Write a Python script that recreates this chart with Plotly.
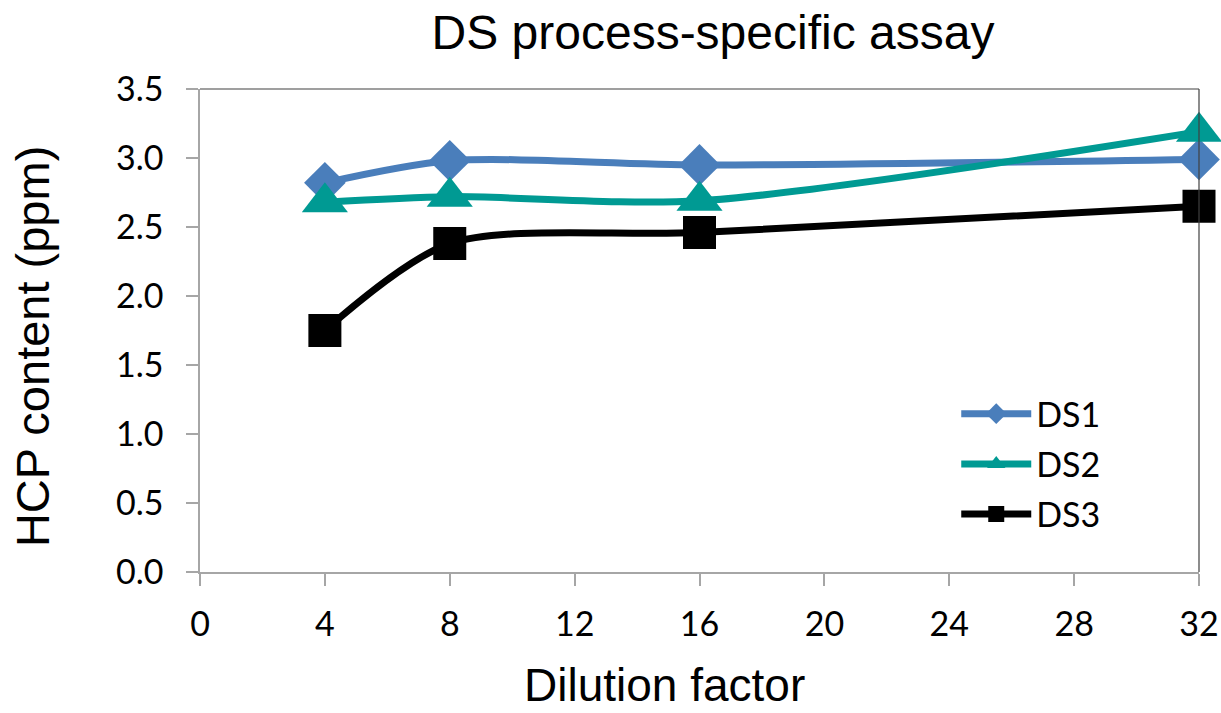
import plotly.graph_objects as go

dilution = [4, 8, 16, 32]
ds1 = [2.82, 2.98, 2.95, 2.99]
ds2 = [2.68, 2.72, 2.69, 3.19]
ds3 = [1.75, 2.38, 2.46, 2.65]

x_ticks = [0, 4, 8, 12, 16, 20, 24, 28, 32]
y_ticks = [0.0, 0.5, 1.0, 1.5, 2.0, 2.5, 3.0, 3.5]
y_tick_text = ["%.1f" % v for v in y_ticks]

series = [
    ("DS1", ds1, "#4A7EBB", "diamond", 32),
    ("DS2", ds2, "#009A93", "triangle-up", 40),
    ("DS3", ds3, "#000000", "square", 33),
]

AX_FONT = "Liberation Sans, Arial"
TICK_FONT = "Lato, Carlito, sans-serif"

fig = go.Figure()
for name, vals, color, sym, size in series:
    fig.add_trace(go.Scatter(
        x=dilution, y=vals, name=name, mode="lines+markers",
        line=dict(color=color, width=7, shape="spline", smoothing=0.8),
        marker=dict(symbol=sym, size=size, color=color, line=dict(width=0)),
        legendgroup=name, cliponaxis=False,
    ))

fig.update_layout(
    width=1221, height=713,
    margin=dict(l=200, r=22, t=89, b=141, autoexpand=False),
    paper_bgcolor="white", plot_bgcolor="white",
    title=dict(text="DS process-specific assay", x=0.5135, xref="paper",
               y=0.955, yanchor="middle",
               font=dict(family=AX_FONT, size=48, color="black")),
    showlegend=True,
    legend=dict(x=0.757, y=0.387, xanchor="left", yanchor="top",
                font=dict(family=TICK_FONT, size=34, color="black"),
                bgcolor="rgba(0,0,0,0)", tracegroupgap=3, itemwidth=70),
    shapes=[
        dict(type="line", xref="paper", yref="paper", x0=0, x1=1, y0=1, y1=1,
             line=dict(color="#404040", width=1.2)),
        dict(type="line", xref="paper", yref="paper", x0=1, x1=1, y0=0, y1=1,
             line=dict(color="#404040", width=1.2)),
    ],
    annotations=[
        dict(text="Dilution factor", xref="paper", yref="paper", x=0.4645, y=-0.2919,
             xanchor="center", yanchor="bottom", showarrow=False,
             font=dict(family=AX_FONT, size=46, color="black")),
        dict(text="HCP content (ppm)", xref="paper", yref="paper", x=-0.167, y=0.466,
             xanchor="center", yanchor="middle", showarrow=False, textangle=-90,
             font=dict(family=AX_FONT, size=47, color="black")),
    ],
)

fig.update_xaxes(
    range=[0, 32], tickvals=x_ticks, showgrid=False, zeroline=False,
    showline=True, linecolor="#A6A6A6", linewidth=1.5, automargin=False,
    ticks="outside", ticklen=12, tickcolor="#A6A6A6", tickwidth=1.5,
    tickfont=dict(family=TICK_FONT, size=34, color="black"),
    ticklabelstandoff=9,
)
fig.update_yaxes(
    range=[0, 3.5], tickvals=y_ticks, ticktext=y_tick_text, showgrid=False, zeroline=False,
    showline=True, linecolor="#A6A6A6", linewidth=1.5, automargin=False,
    ticks="outside", ticklen=12, tickcolor="#A6A6A6", tickwidth=1.5,
    tickfont=dict(family=TICK_FONT, size=34, color="black"),
    ticklabelstandoff=16,
)

fig.write_html("out.html")
